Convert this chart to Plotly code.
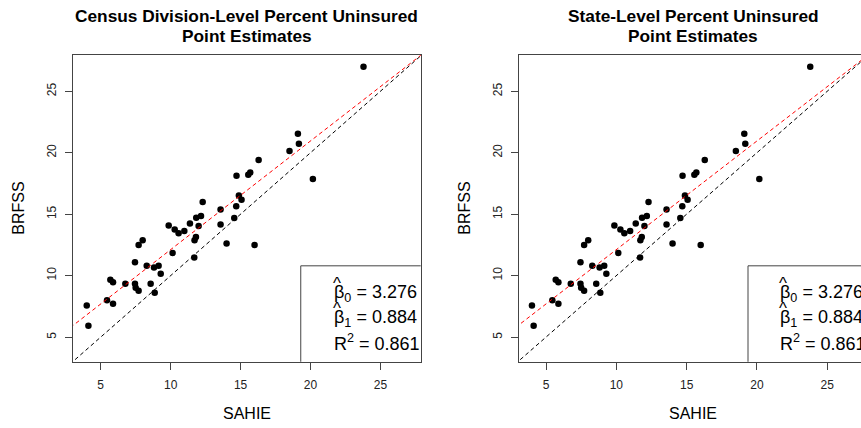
import plotly.graph_objects as go

# ---- data ----
sahie = [23.79, 19.10, 19.17, 18.50, 16.29, 20.17, 14.71, 15.55, 15.69, 14.88,
         15.07, 14.69, 14.55, 13.57, 13.57, 14.00, 16.00, 12.29, 12.17, 11.83,
         12.00, 11.38, 11.81, 11.71, 11.69, 10.98, 10.57, 10.29, 9.86, 10.14,
         9.29, 9.14, 8.81, 8.29, 8.57, 8.86, 8.00, 7.71, 7.45, 7.45,
         7.50, 7.71, 6.76, 5.69, 5.88, 5.45, 5.88, 4.00, 4.12]
brfss = [27.00, 21.55, 20.74, 20.14, 19.41, 17.86, 18.13, 18.21, 18.40, 16.53,
         16.18, 15.64, 14.68, 15.39, 14.17, 12.62, 12.49, 15.99, 14.85, 14.71,
         14.03, 14.25, 13.14, 12.87, 11.48, 13.63, 13.44, 13.76, 14.09, 11.84,
         10.15, 10.80, 10.67, 10.80, 9.34, 8.60, 12.89, 12.49, 11.10, 9.34,
         9.01, 8.77, 9.34, 9.66, 9.47, 8.00, 7.71, 7.57, 5.92]
beta0 = 3.276
beta1 = 0.884
r2 = 0.861
titles = [["Census Division-Level Percent Uninsured", "Point Estimates"],
          ["State-Level Percent Uninsured", "Point Estimates"]]
tick_vals = [5, 10, 15, 20, 25]

W, H = 861, 428
FONT = "Liberation Sans, Arial, sans-serif"
AX = "#444444"

def px(x):
    return x / W

def py(y):
    return 1 - y / H

x_lo, x_hi = 3.04, 27.88
y_lo, y_hi = 3.0, 27.95

fig = go.Figure()

panels = [
    dict(xa="x", ya="y", left=73.3, right=420.7, xrange=[x_lo, x_hi], clip=False),
    dict(xa="x2", ya="y2", left=519.3, right=W, xrange=[3.1, 27.4], clip=True),
]
top_px, bot_px = 55.0, 361.7
full_w = 420.7 - 73.3

for i, p in enumerate(panels):
    # points
    fig.add_trace(go.Scatter(x=sahie, y=brfss, mode="markers",
                             marker=dict(color="black", size=6.5),
                             xaxis=p["xa"], yaxis=p["ya"], showlegend=False,
                             hoverinfo="skip"))
    # identity line
    fig.add_trace(go.Scatter(x=[x_lo - 1, x_hi + 1], y=[x_lo - 1, x_hi + 1], mode="lines",
                             line=dict(color="black", width=1, dash="4px,3px"),
                             xaxis=p["xa"], yaxis=p["ya"], showlegend=False,
                             hoverinfo="skip"))
    # regression line
    xl = [x_lo - 1, x_hi + 1]
    fig.add_trace(go.Scatter(x=xl, y=[beta0 + beta1 * v for v in xl], mode="lines",
                             line=dict(color="red", width=1, dash="4px,3px"),
                             xaxis=p["xa"], yaxis=p["ya"], showlegend=False,
                             hoverinfo="skip"))

    sfx = "" if i == 0 else "2"
    axis_common = dict(showgrid=False, zeroline=False, showline=True, linecolor=AX,
                       linewidth=1, ticks="outside", ticklen=7, tickcolor=AX,
                       tickvals=tick_vals, ticklabelstandoff=5,
                       tickfont=dict(family=FONT, size=12, color="#222"))
    fig.update_layout(**{
        "xaxis" + sfx: dict(domain=[px(p["left"]), px(p["right"])], range=p["xrange"],
                           anchor="y" + sfx, mirror=True, **axis_common),
        "yaxis" + sfx: dict(domain=[py(bot_px), py(top_px)], range=[y_lo, y_hi],
                           anchor="x" + sfx, mirror=not p["clip"], tickangle=-90,
                           **axis_common),
    })

    center = p["left"] + full_w / 2
    # title (two lines)
    for line_txt, yy in zip(titles[i], [15.5, 36.0]):
        fig.add_annotation(xref="paper", yref="paper", x=px(center), y=py(yy),
                           text="<b>" + line_txt + "</b>", showarrow=False,
                           xanchor="center", yanchor="middle",
                           font=dict(family=FONT, size=17.3, color="black"))
    # axis titles
    fig.add_annotation(xref="paper", yref="paper", x=px(center), y=py(413),
                       text="SAHIE", showarrow=False, xanchor="center", yanchor="middle",
                       font=dict(family=FONT, size=16, color="black"))
    fig.add_annotation(xref="paper", yref="paper", x=px(p["left"] - 55), y=py((top_px + bot_px) / 2),
                       text="BRFSS", showarrow=False, xanchor="center", yanchor="middle",
                       textangle=-90, font=dict(family=FONT, size=16, color="black"))
    # legend box
    fig.add_shape(type="rect", xref=p["xa"], yref=p["ya"],
                  x0=p["xrange"][0] + 227.7 / 14.0,
                  x1=x_hi + 2, y0=y_lo - 1, y1=10.8,
                  line=dict(color=AX, width=1), fillcolor="white", layer="above")
    txt_left = p["left"] + 258.4
    lines = ["β<sub>0</sub> = %.3f" % beta0,
             "β<sub>1</sub> = %.3f" % beta1,
             "R<sup>2</sup> = %.3f" % r2]
    ys = [293.3, 318.3, 342.7]
    for t, yy in zip(lines, ys):
        fig.add_annotation(xref="paper", yref="paper", x=px(txt_left), y=py(yy),
                           text=t, showarrow=False, xanchor="left", yanchor="middle",
                           font=dict(family=FONT, size=18, color="black"))
    # hats over the betas
    for yy in ys[:2]:
        fig.add_annotation(xref="paper", yref="paper", x=px(txt_left + 5.5), y=py(yy - 10),
                           text="^", showarrow=False, xanchor="center", yanchor="middle",
                           font=dict(family=FONT, size=17, color="black"))

fig.update_layout(width=W, height=H, margin=dict(l=0, r=0, t=0, b=0),
                  paper_bgcolor="white", plot_bgcolor="white")

fig.write_html("out.html", config={"displayModeBar": False},
               post_script="document.body.style.margin='0';document.body.style.overflow='hidden';")
